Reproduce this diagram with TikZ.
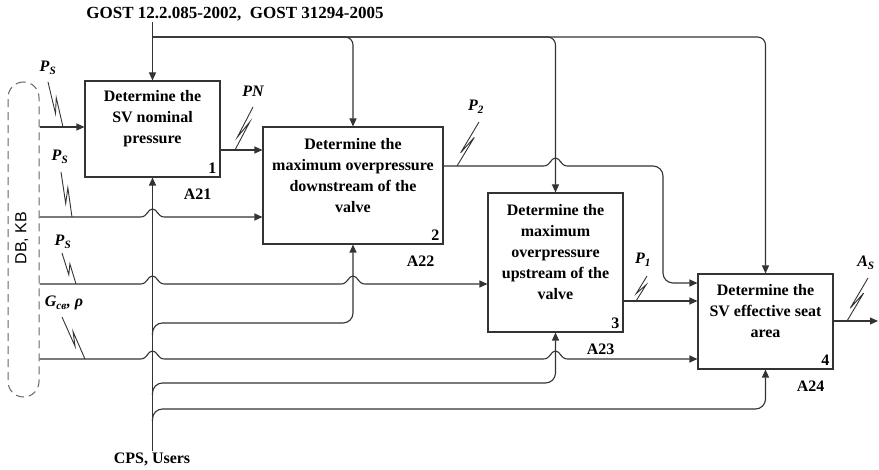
\documentclass[tikz,border=0pt]{standalone}
\usepackage{fontspec}
\setmainfont{Liberation Serif}
\newfontfamily\dbfont{Liberation Sans}
\usetikzlibrary{arrows.meta,calc}

% a small hump where a line jumps over another one
\newcommand{\hop}[2]{-- (#1-12,#2) .. controls (#1-5,#2) and (#1-5,#2-8) .. (#1,#2-8) .. controls (#1+5,#2-8) and (#1+5,#2) .. (#1+12,#2)}
% squiggle tying a label to its line
\newcommand{\squig}[2]{\draw[tie] #1 -- ($#1!0.65!#2+(3,0)$) -- ($#1!0.3!#2+(-3,0)$) -- #2;}

\tikzset{
  line/.style={draw=black!80, line width=1.1pt},
  arr/.style={line, -{Triangle[length=8pt,width=7pt]}},
  tie/.style={draw=black!80, line width=0.9pt, line join=miter},
  func/.style={line, minimum width=135pt, minimum height=95pt, inner sep=0pt},
  ftext/.style={font=\bfseries\fontsize{16}{21}\selectfont, align=center, inner sep=0pt},
  fnum/.style={font=\bfseries\fontsize{16}{16}\selectfont, anchor=south east, inner sep=4pt},
  code/.style={font=\bfseries\fontsize{16}{16}\selectfont, inner sep=1pt},
  lbl/.style={font=\bfseries\itshape\fontsize{16}{16}\selectfont, inner sep=1pt},
}

\begin{document}
\begin{tikzpicture}[x=1pt,y=-1pt]
  \useasboundingbox (0,0) rectangle (879,470);

  % function boxes
  \node[func, minimum height=96pt] (f1) at (152.5,129) {};
  \node[func, minimum width=180pt, minimum height=117pt] (f2) at (353,185.5) {};
  \node[func, minimum height=139pt] (f3) at (555.5,262.5) {};
  \node[func] (f4) at (765.5,321.5) {};

  % box texts
  \node[ftext] (t1) at ([yshift=10pt]f1.center) {Determine the\\SV nominal\\pressure};
  \node[ftext] (t2) at ([yshift=10pt]f2.center) {Determine the\\maximum overpressure\\downstream of the\\valve};
  \node[ftext] (t3) at ([yshift=10pt]f3.center) {Determine the\\maximum\\overpressure\\upstream of the\\valve};
  \node[ftext] (t4) at ([yshift=10pt]f4.center) {Determine the\\SV effective seat\\area};

  % numbers and node codes
  \foreach \i in {1,...,4} {
    \node[fnum] (n\i) at (f\i.south east) {\i};
    \node[code] (a\i) at ($(f\i.south east)+(-23,17)$) {A2\i};
  }

  % data sources
  \node[line, draw=black!60, line width=1pt, dash pattern=on 8pt off 5pt,
        rounded corners=15.5pt, minimum width=31pt, minimum height=315pt,
        inner sep=0pt] (db) at (23.5,239.5) {};
  \node[rotate=90, font=\dbfont\fontsize{16}{16}\selectfont, inner sep=0pt] (dbkb) at (22,238) {DB, KB};

  \node[code, font=\bfseries\fontsize{17}{17}\selectfont] (gost) at (235,14) {GOST 12.2.085-2002,\enspace GOST 31294-2005};
  \node[code] (cps) at (152,459) {CPS, Users};

  % controls
  \draw[arr] (gost.south -| f1.north) -- (f1.north);
  \coordinate (ctl) at (152,37);
  \draw[arr, rounded corners=8pt] (ctl) -| (f2.north);
  \draw[arr, rounded corners=8pt] (ctl) -| (f3.north);
  \draw[arr, rounded corners=8pt] (ctl) -| (f4.north);

  % mechanisms
  \draw[arr] (f1.south |- cps.north) -- (f1.south);
  \draw[arr, rounded corners=10pt] (f1.south |- 0,335) |- (f2.south |- 0,323) -- (f2.south);
  \draw[arr, rounded corners=10pt] (f1.south |- 0,395) |- (f3.south |- 0,383) -- (f3.south);
  \draw[arr, rounded corners=10pt] (f1.south |- 0,421) |- (f4.south |- 0,409) -- (f4.south);

  % inputs
  \draw[arr] (db.east |- 0,127) -- (f1.west |- 0,127);
  \draw[arr] (db.east |- 0,217) \hop{152.5}{217} -- (f2.west |- 0,217);
  \draw[arr] (db.east |- 0,284) \hop{152.5}{284} \hop{353}{284} -- (f3.west |- 0,284);
  \draw[arr] (db.east |- 0,359) \hop{152.5}{359} \hop{555.5}{359} -- (f4.west |- 0,359);

  % flows between the boxes
  \draw[arr] (f1.east |- 0,150) -- (f2.west |- 0,150);
  \draw[arr] (f2.east |- 0,166) \hop{555.5}{166} [rounded corners=10pt] -- (663,166) -- (663,283) -- (f4.west |- 0,283);
  \draw[arr] (f3.east |- 0,301) -- (f4.west |- 0,301);
  \coordinate (out) at (878,321);
  \draw[arr] (f4.east |- out) -- (out);

  % labels with their squiggles
  \node[lbl] (ps1) at (48,68) {P\textsubscript{S}};
  \squig{(63,127)}{(48,82)}
  \node[lbl] (ps2) at (60,157) {P\textsubscript{S}};
  \squig{(72,217)}{(61,172)}
  \node[lbl] (ps3) at (63,242) {P\textsubscript{S}};
  \squig{(76,284)}{(62,253)}
  \node[lbl] (gcb) at (64,303) {G\textsubscript{св}, ρ};
  \squig{(85,359)}{(62,317)}
  \node[lbl] (pn) at (253,91) {PN};
  \squig{(235,150)}{(253,107)}
  \node[lbl] (p2) at (476,107) {P\textsubscript{2}};
  \squig{(457,166)}{(479,122)}
  \node[lbl] (p1) at (643,260) {P\textsubscript{1}};
  \squig{(636,301)}{(647,276)}
  \node[lbl] (as) at (866,263) {A\textsubscript{S}};
  \squig{(847,321)}{(868,278)}
\end{tikzpicture}
\end{document}
